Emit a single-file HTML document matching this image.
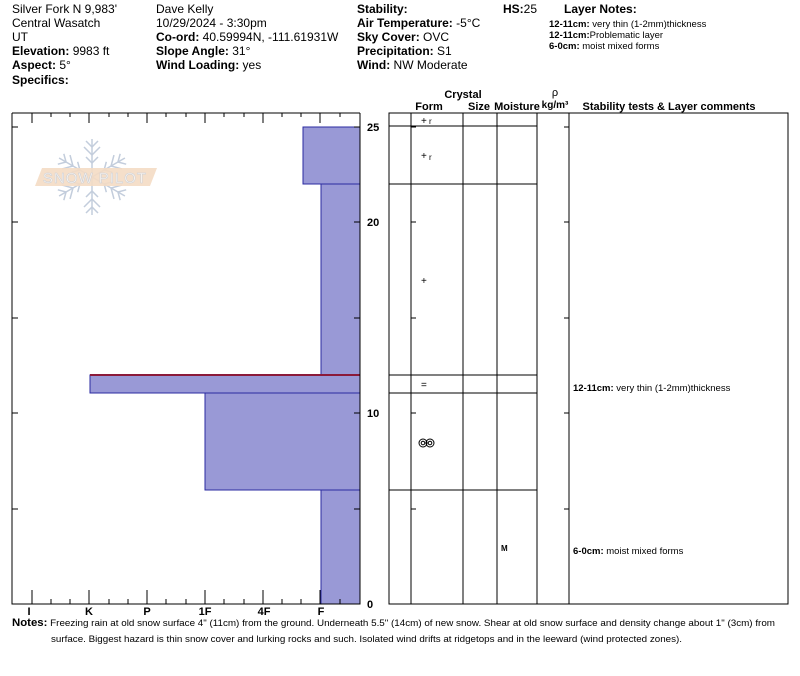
<!DOCTYPE html>
<html><head><meta charset="utf-8"><style>
body{margin:0;background:#fff;}
svg{display:block;font-family:"Liberation Sans",sans-serif;}
</style></head><body>
<svg width="800" height="676" viewBox="0 0 800 676" xmlns="http://www.w3.org/2000/svg">
<g font-size="12" fill="#000">
<text x="12" y="13">Silver Fork N 9,983'</text>
<text x="12" y="27">Central Wasatch</text>
<text x="12" y="41">UT</text>
<text x="12" y="55"><tspan font-weight="bold">Elevation:</tspan> 9983 ft</text>
<text x="12" y="69"><tspan font-weight="bold">Aspect:</tspan> 5°</text>
<text x="12" y="84" font-weight="bold">Specifics:</text>
<text x="156" y="13">Dave Kelly</text>
<text x="156" y="27">10/29/2024 - 3:30pm</text>
<text x="156" y="41"><tspan font-weight="bold">Co-ord:</tspan> 40.59994N, -111.61931W</text>
<text x="156" y="55"><tspan font-weight="bold">Slope Angle:</tspan> 31°</text>
<text x="156" y="69"><tspan font-weight="bold">Wind Loading:</tspan> yes</text>
<text x="357" y="13" font-weight="bold">Stability:</text>
<text x="357" y="27"><tspan font-weight="bold">Air Temperature:</tspan> -5°C</text>
<text x="357" y="41"><tspan font-weight="bold">Sky Cover:</tspan> OVC</text>
<text x="357" y="55"><tspan font-weight="bold">Precipitation:</tspan> S1</text>
<text x="357" y="69"><tspan font-weight="bold">Wind:</tspan>  NW Moderate</text>
<text x="503" y="13"><tspan font-weight="bold">HS:</tspan>25</text>
<text x="564" y="13" font-weight="bold">Layer Notes:</text>
</g>
<g font-size="9.5">
<text x="549" y="27"><tspan font-weight="bold">12-11cm:</tspan> very thin (1-2mm)thickness</text>
<text x="549" y="38"><tspan font-weight="bold">12-11cm:</tspan>Problematic layer</text>
<text x="549" y="49"><tspan font-weight="bold">6-0cm:</tspan> moist mixed forms</text>
</g>
<!-- logo -->
<g>
<g stroke="#c3cddc" stroke-width="1.5" fill="none" transform="translate(92,177)">
<g id="arm"><line x1="0" y1="0" x2="0" y2="-38"/><line x1="0" y1="-30" x2="-6" y2="-36"/><line x1="0" y1="-30" x2="6" y2="-36"/><line x1="0" y1="-22" x2="-8" y2="-30"/><line x1="0" y1="-22" x2="8" y2="-30"/><line x1="0" y1="-14" x2="-6" y2="-20"/><line x1="0" y1="-14" x2="6" y2="-20"/></g>
<use href="#arm" transform="rotate(60)"/><use href="#arm" transform="rotate(120)"/><use href="#arm" transform="rotate(180)"/><use href="#arm" transform="rotate(240)"/><use href="#arm" transform="rotate(300)"/>
</g>
<polygon points="42,168 157,168 150,186 35,186" fill="#f4dcc4" opacity="0.9"/>
<text x="95" y="183" font-size="15" fill="#fdf6ef" stroke="#c9cfd8" stroke-width="0.5" text-anchor="middle" letter-spacing="1">SNOW PILOT</text>
</g>
<!-- bars -->
<g fill="#9999d6" stroke="#2a2aa0" stroke-width="1">
<rect x="303" y="127" width="57" height="57"/>
<rect x="321" y="184" width="39" height="191"/>
<rect x="90" y="375" width="270" height="18"/>
<rect x="205" y="393" width="155" height="97"/>
<rect x="321" y="490" width="39" height="114"/>
</g>
<line x1="90" y1="375" x2="360" y2="375" stroke="#8b1a3a" stroke-width="2"/>
<g stroke="#000" stroke-width="1" fill="none">
<polyline points="12,113 12,604 360,604 360,113"/>
<line x1="12" y1="113" x2="360" y2="113"/>
</g>
<g stroke="#000" stroke-width="1">
<path d="M32 604v-14M89 604v-14M147 604v-14M205 604v-14M263 604v-14M320 604v-14M51 604v-5M70 604v-5M109 604v-5M128 604v-5M166 604v-5M186 604v-5M224 604v-5M244 604v-5M282 604v-5M301 604v-5M340 604v-5"/>
<path d="M32 113v10M89 113v10M147 113v10M205 113v10M263 113v10M320 113v10M51 113v4M70 113v4M109 113v4M128 113v4M166 113v4M186 113v4M224 113v4M244 113v4M282 113v4M301 113v4M340 113v4"/>
<path d="M12 127h6M12 222h6M12 318h6M12 413h6M12 509h6M360 127h-6M360 222h-6M360 318h-6M360 413h-6M360 509h-6"/>
</g>
<g font-size="11" font-weight="bold">
<text x="367" y="131">25</text><text x="367" y="226">20</text><text x="367" y="417">10</text><text x="367" y="608">0</text>
<g text-anchor="middle"><text x="29" y="615">I</text><text x="89" y="615">K</text><text x="147" y="615">P</text><text x="205" y="615">1F</text><text x="264" y="615">4F</text><text x="321" y="615">F</text></g>
</g>
<g font-size="11" font-weight="bold" text-anchor="middle">
<text x="463" y="98">Crystal</text>
<text x="429" y="110">Form</text><text x="479" y="110">Size</text><text x="517" y="110">Moisture</text>
<text x="555" y="96" font-weight="normal">ρ</text><text x="555" y="108" font-size="10">kg/m³</text>
<text x="669" y="110">Stability tests &amp; Layer comments</text>
</g>
<g stroke="#000" stroke-width="1" fill="none">
<rect x="389" y="113" width="399" height="491"/>
<path d="M411 113V604M463 113V604M497 113V604M537 113V604M569 113V604"/>
<path d="M389 126H537M389 184H537M389 375H537M389 393H537M389 490H537"/>
<path d="M411 127h5M411 222h5M411 318h5M411 413h5M411 509h5M569 127h-5M569 222h-5M569 318h-5M569 413h-5M569 509h-5"/>
</g>
<g font-size="10">
<text x="421" y="124">+</text><text x="429" y="124" font-size="8">r</text>
<text x="421" y="159">+</text><text x="429" y="160" font-size="8">r</text>
<text x="421" y="284">+</text>
<text x="421" y="388">=</text>
<text x="501" y="551" font-size="8" font-weight="bold">M</text>
</g>
<g stroke="#000" stroke-width="1" fill="none">
<circle cx="423" cy="443" r="4"/><circle cx="430" cy="443" r="4"/>
<circle cx="423" cy="443" r="1.8"/><circle cx="430" cy="443" r="1.8"/>
</g>
<g font-size="9.5">
<text x="573" y="391"><tspan font-weight="bold">12-11cm:</tspan> very thin (1-2mm)thickness</text>
<text x="573" y="554"><tspan font-weight="bold">6-0cm:</tspan> moist mixed forms</text>
</g>
<g font-size="9.5">
<text x="12" y="626" textLength="763" lengthAdjust="spacingAndGlyphs"><tspan font-weight="bold" font-size="11">Notes:</tspan> Freezing rain at old snow surface 4" (11cm) from the ground. Underneath 5.5" (14cm) of new snow. Shear at old snow surface and density change about 1" (3cm) from</text>
<text x="51" y="642" textLength="631" lengthAdjust="spacingAndGlyphs">surface. Biggest hazard is thin snow cover and lurking rocks and such. Isolated wind drifts at ridgetops and in the leeward (wind protected zones).</text>
</g>
</svg>
</body></html>
